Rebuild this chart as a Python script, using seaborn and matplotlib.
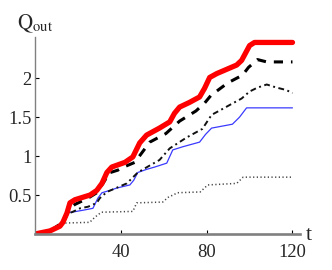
import pandas as pd
import numpy as np
import matplotlib
matplotlib.use("Agg")
import matplotlib.pyplot as plt
import seaborn as sns

# values (t, Q_out)
t_red = [0, 7, 11.6, 13, 14.9, 16.3, 18.6, 25.6, 28.8, 31.2, 33.5, 35.8, 41.9, 45.6, 48.8,
         52, 58, 62.8, 65, 67.4, 72, 76.7, 79, 81.4, 84.7, 94, 96.3, 100, 102.3, 120]
q_red = [0, 0.04, 0.10, 0.15, 0.27, 0.40, 0.44, 0.50, 0.56, 0.65, 0.79, 0.86, 0.92, 0.99, 1.17,
         1.27, 1.36, 1.44, 1.55, 1.63, 1.69, 1.76, 1.87, 2.01, 2.06, 2.17, 2.23, 2.42, 2.46, 2.46]

t_dash = [0, 7, 13, 16.3, 18.6, 24.7, 28.8, 32.6, 34, 38.6, 40.5, 46.5, 50, 53.5, 61,
          67.4, 75, 79, 82, 89.8, 96.7, 99.5, 103.7, 108, 120]
q_dash = [0, 0.04, 0.15, 0.33, 0.38, 0.46, 0.53, 0.69, 0.78, 0.82, 0.85, 0.92, 1.05, 1.18, 1.29,
          1.45, 1.58, 1.68, 1.78, 1.94, 2.04, 2.14, 2.24, 2.21, 2.21]

t_dashdot = [0, 7, 13, 14.9, 17.2, 21, 24.7, 28.8, 30.2, 33.5, 38.6, 42.8, 47.9, 53.5, 58,
             62.8, 70.7, 78, 82.3, 87, 91.6, 96.3, 100, 103.7, 108, 112.6, 117, 120]
q_dashdot = [0, 0.04, 0.14, 0.26, 0.28, 0.33, 0.35, 0.40, 0.46, 0.54, 0.60, 0.65, 0.79, 0.88, 0.95,
             1.10, 1.24, 1.35, 1.53, 1.60, 1.67, 1.74, 1.83, 1.88, 1.92, 1.88, 1.85, 1.81]

t_blue = [0, 7, 11.6, 14, 15.3, 17.2, 23.3, 27, 29.3, 31.2, 34.9, 38.1, 44.2, 46, 47.9,
          52, 55.8, 61.4, 64.2, 68.8, 76.7, 79.5, 82.3, 92, 95.3, 98.6, 120]
q_blue = [0, 0.04, 0.12, 0.24, 0.28, 0.28, 0.31, 0.33, 0.46, 0.53, 0.56, 0.59, 0.63, 0.69, 0.79,
          0.83, 0.86, 0.91, 1.08, 1.12, 1.18, 1.28, 1.36, 1.41, 1.50, 1.62, 1.62]

t_dot = [0, 7, 11.6, 13, 25.6, 26.5, 29, 31, 45.6, 47.4, 59.5, 62, 66.5, 77, 80.5, 94, 97, 120]
q_dot = [0, 0.04, 0.13, 0.14, 0.15, 0.18, 0.24, 0.28, 0.29, 0.40, 0.41, 0.47, 0.53, 0.54, 0.63,
         0.65, 0.73, 0.73]

x_ticks = [40, 80, 120]
y_ticks = [0.5, 1, 1.5, 2]
y_ticklabels = ["0.5", "1", "1.5", "2"]

sns.set_style("ticks")
plt.rcParams['font.family'] = ['Liberation Serif', 'DejaVu Serif']
plt.rcParams['mathtext.fontset'] = 'stix'

fig = plt.figure(figsize=(3.32, 2.70), dpi=100)
ax = fig.add_axes([35 / 332, 36 / 270, 265 / 332, 197 / 270])

sns.lineplot(x=t_dot, y=q_dot, ax=ax, color="#444444", lw=1.1,
             linestyle=(0, (0.8, 1.6)), errorbar=None)
sns.lineplot(x=t_blue, y=q_blue, ax=ax, color="#3a3aff", lw=0.9, errorbar=None)
sns.lineplot(x=t_dashdot, y=q_dashdot, ax=ax, color="#111111", lw=1.4,
             linestyle=(0, (3, 1.8, 1, 1.8)), errorbar=None)
sns.lineplot(x=t_dash, y=q_dash, ax=ax, color="black", lw=2.2,
             linestyle=(0, (3, 2.6)), errorbar=None)
sns.lineplot(x=t_red, y=q_red, ax=ax, color="#ff0000", lw=3.8, errorbar=None,
             solid_capstyle="round", solid_joinstyle="round")

ax.set_xlim(0, 123.5)
ax.set_ylim(0, 2.53)
ax.set_xticks(x_ticks)
ax.set_yticks(y_ticks)
ax.set_yticklabels(y_ticklabels)
ax.set_xlabel("")
ax.set_ylabel("")

for s in ["top", "right"]:
    ax.spines[s].set_visible(False)
ax.spines["left"].set_color("#808080")
ax.spines["left"].set_linewidth(1.0)
ax.spines["bottom"].set_color("#808080")
ax.spines["bottom"].set_linewidth(1.9)

ax.tick_params(axis="both", direction="in", length=3, width=0.8, color="black",
               labelsize=13.3)
ax.tick_params(axis="x", pad=7.5)
ax.tick_params(axis="y", pad=2.5)

ax.annotate(r"$\mathrm{Q_{out}}$", xy=(0, 1), xycoords="axes fraction",
            xytext=(0, 6.5), textcoords="offset points", ha="center", va="baseline",
            fontsize=15)
ax.annotate("t", xy=(1, 0), xycoords="axes fraction",
            xytext=(6.5, -4.5), textcoords="offset points", ha="center", va="baseline",
            fontsize=16)

fig.savefig("out.png", dpi=100)
